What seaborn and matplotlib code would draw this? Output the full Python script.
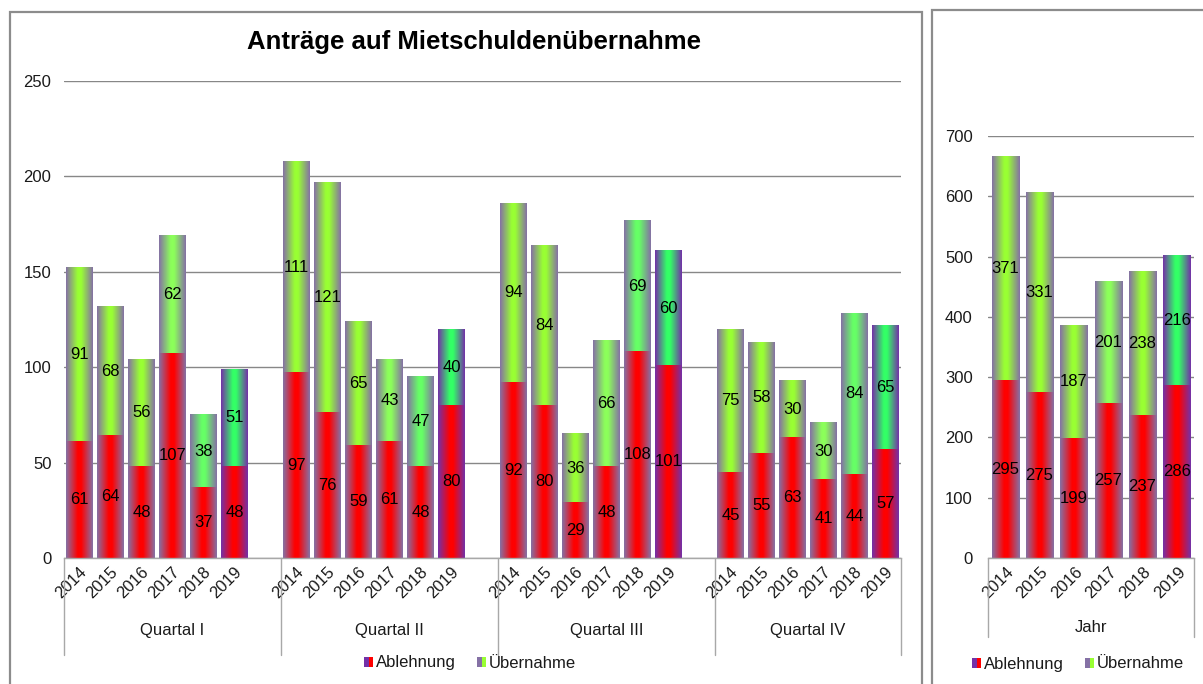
import numpy as np
import pandas as pd
import matplotlib
matplotlib.use("Agg")
import matplotlib.pyplot as plt
import seaborn as sns
import matplotlib.transforms as mtrans
from matplotlib.patches import Rectangle
from matplotlib.legend_handler import HandlerBase
from matplotlib.colors import to_rgb

# ---------------- data ----------------
years = ["2014", "2015", "2016", "2017", "2018", "2019"]
quarters = ["Quartal I", "Quartal II", "Quartal III", "Quartal IV"]

abl_q1 = [61, 64, 48, 107, 37, 48]
ueb_q1 = [91, 68, 56, 62, 38, 51]
abl_q2 = [97, 76, 59, 61, 48, 80]
ueb_q2 = [111, 121, 65, 43, 47, 40]
abl_q3 = [92, 80, 29, 48, 108, 101]
ueb_q3 = [94, 84, 36, 66, 69, 60]
abl_q4 = [45, 55, 63, 41, 44, 57]
ueb_q4 = [75, 58, 30, 30, 84, 65]

abl_year = [295, 275, 199, 257, 237, 286]
ueb_year = [371, 331, 187, 201, 238, 216]

title = "Anträge auf Mietschuldenübernahme"
series_names = ["Ablehnung", "Übernahme"]
year_group_label = "Jahr"

# ---------------- styling ----------------
W, H = 1203, 684
RED = "#FF0000"
EDGE = "#8571A5"
EDGE_19 = "#7331A8"
GREEN_LEFT = ["#99FF33", "#99FF33", "#99FF33", "#8CFF5A", "#66FF66", "#33FF66"]
GREEN_RIGHT = ["#99FF33", "#99FF33", "#99FF33", "#8CFF5A", "#99FF33", "#33FF66"]
GRID = "#878787"
AXLINE = "#A8A8A8"
TXT = "#1A1A1A"
FS = 12

sns.set_theme(style="white")
plt.rcParams["font.family"] = ["Liberation Sans", "DejaVu Sans"]

abl_q = [abl_q1, abl_q2, abl_q3, abl_q4]
ueb_q = [ueb_q1, ueb_q2, ueb_q3, ueb_q4]

# long table with slots (blank slot between quarters)
order = []
rows = []
for qi, q in enumerate(quarters):
    for yi, y in enumerate(years):
        slot = f"{q}|{y}"
        order.append(slot)
        rows.append(dict(slot=slot, quarter=q, year=y,
                         ablehnung=abl_q[qi][yi], uebernahme=ueb_q[qi][yi],
                         total=abl_q[qi][yi] + ueb_q[qi][yi]))
    if qi < len(quarters) - 1:
        order.append(f"gap{qi}")
df = pd.DataFrame(rows)

df_year = pd.DataFrame(dict(year=years, ablehnung=abl_year, uebernahme=ueb_year))
df_year["total"] = df_year["ablehnung"] + df_year["uebernahme"]

fig = plt.figure(figsize=(W / 100, H / 100), dpi=100)


def grad_img(edge, center, n=80):
    t = np.linspace(0, 1, n)
    w = 1 - np.abs(2 * t - 1)
    w = np.clip(w * 1.15, 0, 1)
    e = np.array(to_rgb(edge))
    c = np.array(to_rgb(center))
    return (e[None, :] + (c - e)[None, :] * w[:, None])[None, :, :]


def gradientize(ax, patches, edge_fn, center_fn, z):
    for p in patches:
        x0 = p.get_x()
        x1 = x0 + p.get_width()
        y0 = p.get_y()
        y1 = y0 + p.get_height()
        pos = int(round((x0 + x1) / 2))
        ax.imshow(grad_img(edge_fn(pos), center_fn(pos)), extent=[x0, x1, y0, y1],
                  aspect="auto", interpolation="bilinear", zorder=z)
        p.set_facecolor("none")
        p.set_edgecolor("none")


class Split:
    def __init__(self, c1, c2):
        self.c1, self.c2 = c1, c2


class SplitHandler(HandlerBase):
    def create_artists(self, legend, h, xd, yd, width, height, fontsize, trans):
        r1 = Rectangle((-xd, -yd), width / 2, height, facecolor=h.c1, edgecolor="none", transform=trans)
        r2 = Rectangle((-xd + width / 2, -yd), width / 2, height, facecolor=h.c2, edgecolor="none", transform=trans)
        return [r1, r2]


def style_axis(ax, ymax, step, ypad):
    ax.set_ylim(0, ymax)
    ax.set_yticks(np.arange(0, ymax + 1, step))
    ax.yaxis.grid(True, color=GRID, linewidth=1.0)
    ax.set_axisbelow(True)
    for s in ["left", "top", "right"]:
        ax.spines[s].set_visible(False)
    ax.spines["bottom"].set_color(AXLINE)
    ax.spines["bottom"].set_linewidth(1.0)
    ax.tick_params(axis="y", length=0, pad=ypad, labelsize=FS, labelcolor=TXT)
    ax.tick_params(axis="x", length=0, pad=5, labelsize=FS, labelcolor=TXT)
    ax.set_xlabel("")
    ax.set_ylabel("")


# ---------------- left panel ----------------
axL = fig.add_axes([64 / W, (H - 558) / H, 837 / W, 477 / H])
sns.barplot(data=df, x="slot", y="total", order=order, ax=axL, width=0.84,
            color=GREEN_LEFT[0], saturation=1, errorbar=None)
n_green = len(axL.patches)
sns.barplot(data=df, x="slot", y="ablehnung", order=order, ax=axL, width=0.84,
            color=RED, saturation=1, errorbar=None)
green_p = axL.patches[:n_green]
red_p = axL.patches[n_green:]


def year_of(pos):
    return years.index(order[pos].split("|")[1])


edgeL = lambda pos: EDGE_19 if year_of(pos) == 5 else EDGE
gradientize(axL, green_p, edgeL, lambda pos: GREEN_LEFT[year_of(pos)], 2)
gradientize(axL, red_p, edgeL, lambda pos: RED, 2.1)

style_axis(axL, 250, 50, 9)
axL.set_xlim(-0.5, len(order) - 0.5)
tick_pos = [i for i, s in enumerate(order) if "|" in s]
axL.set_xticks(tick_pos)
axL.set_xticklabels([order[i].split("|")[1] for i in tick_pos], rotation=45,
                    ha="right", va="center", rotation_mode="anchor")
for lab in axL.get_xticklabels():
    lab.set_transform(lab.get_transform() + mtrans.ScaledTranslation(5 / 100, -5 / 100, fig.dpi_scale_trans))

for _, r in df.iterrows():
    pos = order.index(r["slot"])
    axL.text(pos, r["ablehnung"] / 2, str(r["ablehnung"]), ha="center", va="center",
             fontsize=FS, color="black", zorder=5)
    axL.text(pos, r["ablehnung"] + r["uebernahme"] / 2, str(r["uebernahme"]), ha="center",
             va="center", fontsize=FS, color="black", zorder=5)

blendL = mtrans.blended_transform_factory(axL.transData, axL.transAxes)
bounds = [-0.5] + [i + 0.5 for i, s in enumerate(order) if s.startswith("gap")] + [len(order) - 0.5]
for b in bounds:
    axL.plot([b, b], [0, -(655 - 558) / 477], transform=blendL, clip_on=False,
             color=AXLINE, linewidth=1.0)
for qi, q in enumerate(quarters):
    a = bounds[qi]
    c = bounds[qi + 1]
    axL.text((a + c) / 2, -(631 - 558) / 477, q, transform=blendL, ha="center",
             va="center", fontsize=FS, color=TXT)

fig.text(474 / W, 1 - 42 / H, title, ha="center", va="center", fontsize=18.5,
         fontweight="bold", color="black")

hmap = {Split: SplitHandler()}
legL = axL.legend([Split(EDGE_19, RED), Split(EDGE, GREEN_LEFT[0])], series_names,
                  handler_map=hmap, loc="center", bbox_to_anchor=(470 / W, 1 - 663 / H),
                  bbox_transform=fig.transFigure, ncol=2, frameon=False, fontsize=FS,
                  handlelength=0.55, handleheight=0.55, handletextpad=0.15,
                  columnspacing=1.3, labelcolor=TXT)

# ---------------- right panel ----------------
axR = fig.add_axes([988 / W, (H - 558) / H, 206 / W, 422 / H])
sns.barplot(data=df_year, x="year", y="total", order=years, ax=axR, width=0.79,
            color=GREEN_RIGHT[0], saturation=1, errorbar=None)
n_gr = len(axR.patches)
sns.barplot(data=df_year, x="year", y="ablehnung", order=years, ax=axR, width=0.79,
            color=RED, saturation=1, errorbar=None)
edgeR = lambda pos: EDGE_19 if pos == 5 else EDGE
gradientize(axR, axR.patches[:n_gr], edgeR, lambda pos: GREEN_RIGHT[pos], 2)
gradientize(axR, axR.patches[n_gr:], edgeR, lambda pos: RED, 2.1)

style_axis(axR, 700, 100, 11)
axR.set_xlim(-0.5, len(years) - 0.5)
axR.set_xticks(range(len(years)))
axR.set_xticklabels(years, rotation=45, ha="right", va="center", rotation_mode="anchor")
for lab in axR.get_xticklabels():
    lab.set_transform(lab.get_transform() + mtrans.ScaledTranslation(6 / 100, -5 / 100, fig.dpi_scale_trans))

for i, r in df_year.iterrows():
    axR.text(i, r["ablehnung"] / 2, str(r["ablehnung"]), ha="center", va="center",
             fontsize=FS, color="black", zorder=5)
    axR.text(i, r["ablehnung"] + r["uebernahme"] / 2, str(r["uebernahme"]), ha="center",
             va="center", fontsize=FS, color="black", zorder=5)

blendR = mtrans.blended_transform_factory(axR.transData, axR.transAxes)
for b in [-0.5, len(years) - 0.5]:
    axR.plot([b, b], [0, -(637 - 558) / 422], transform=blendR, clip_on=False,
             color=AXLINE, linewidth=1.0)
axR.text((len(years) - 1) / 2, -(628 - 558) / 422, year_group_label, transform=blendR,
         ha="center", va="center", fontsize=FS, color=TXT)

legR = axR.legend([Split(EDGE_19, RED), Split(EDGE, GREEN_RIGHT[0])], series_names,
                  handler_map=hmap, loc="center", bbox_to_anchor=(1078 / W, 1 - 664 / H),
                  bbox_transform=fig.transFigure, ncol=2, frameon=False, fontsize=FS,
                  handlelength=0.55, handleheight=0.55, handletextpad=0.15,
                  columnspacing=1.3, labelcolor=TXT)

# ---------------- panel frames ----------------
fig.add_artist(Rectangle((10 / W, -0.05), (922 - 10) / W, 1.05 - 12 / H, transform=fig.transFigure,
                         fill=False, edgecolor="#8C8C8C", linewidth=1.6))
fig.add_artist(Rectangle((932 / W, -0.05), 0.3, 1.05 - 10 / H, transform=fig.transFigure,
                         fill=False, edgecolor="#8C8C8C", linewidth=1.6))

fig.savefig("out.png", dpi=100)
